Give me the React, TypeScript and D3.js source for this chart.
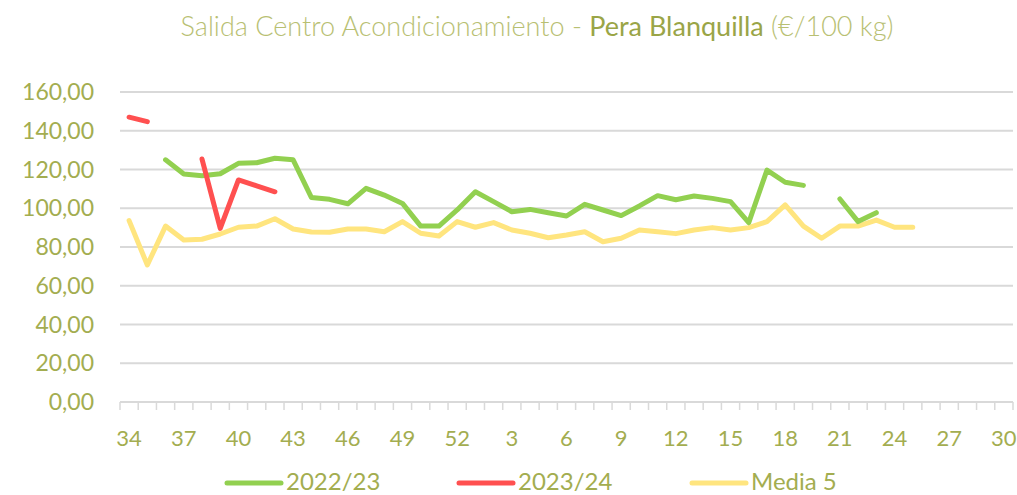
import React from "react";
import * as d3 from "d3";

const weeks: string[] = [
  ...d3.range(34, 53).map(String),
  ...d3.range(1, 31).map(String),
];

const tickLabels = ["34","37","40","43","46","49","52","3","6","9","12","15","18","21","24","27","30"];
const yTicks = [0, 20, 40, 60, 80, 100, 120, 140, 160];

type V = number | null;

// 2022/23 (weeks 34..52, 1..30)
const s2223: V[] = [
  null, null, 125, 117.7, 116.8, 117.8, 123.2, 123.5, 125.8, 125,
  105.6, 104.6, 102.3, 110.3, 106.8, 102.5, 90.8, 90.8, 99.1,
  108.5, 103.4, 98.2, 99.4, 97.7, 96, 102, 99.1, 96.2, 101.2,
  106.5, 104.4, 106.3, 105.1, 103.4, 92.6, 119.7, 113.4, 111.8, null,
  104.8, 93.1, 97.7, null, null, null, null, null, null, null,
];

const s2324: V[] = [
  147, 144.7, null, null, 125.4, 89.6, 114.6, 111.6, 108.5, null,
  null, null, null, null, null, null, null, null, null,
  null, null, null, null, null, null, null, null, null, null,
  null, null, null, null, null, null, null, null, null, null,
  null, null, null, null, null, null, null, null, null, null,
];

const media5: V[] = [
  93.6, 70.7, 90.8, 83.6, 84, 86.7, 90.2, 90.8, 94.6, 89.3,
  87.7, 87.6, 89.3, 89.3, 87.9, 93.1, 87.1, 85.7, 93.1,
  90.2, 92.6, 88.8, 87.1, 84.8, 86.2, 87.9, 82.7, 84.5, 88.8,
  87.9, 86.9, 88.8, 90, 88.8, 90, 93.1, 101.7, 90.8, 84.5,
  90.8, 90.8, 93.9, 90.2, 90.2, null, null, null, null, null,
];

const series = [
  { name: "2022/23", values: s2223, color: "#92d050" },
  { name: "2023/24", values: s2324, color: "#ff5050" },
  { name: "Media 5", values: media5, color: "#ffe57f" },
];

const labelColor = "#a3ad50";
const font = "Lato, 'Open Sans', sans-serif";

export default function App() {
  const W = 1017, H = 495;
  const x = d3.scaleBand<string>().domain(weeks).range([120, 1013]);
  const y = d3.scaleLinear().domain([0, 160]).range([402, 92]);
  const cx = (w: string) => (x(w) as number) + x.bandwidth() / 2;
  const line = d3
    .line<V>()
    .defined((d) => d !== null)
    .x((_, i) => cx(weeks[i]))
    .y((d) => y(d as number));

  const boundaries = weeks.map((w) => x(w) as number).concat([x.range()[1]]);
  const legendX = [227, 459, 692];

  return (
    <svg width={W} height={H} style={{ position: "absolute", left: 0, top: 0 }}>
      <rect width={W} height={H} fill="#ffffff" />
      <text x={537} y={36} textAnchor="middle" fontFamily={font} fontSize={27} fontWeight={300} fill="#b8c072">
        Salida Centro Acondicionamiento -{" "}
        <tspan fill="#9aa547" fontWeight={400}>Pera Blanquilla</tspan> (€/100 kg)
      </text>
      {yTicks.slice(1).map((t) => (
        <line key={t} x1={120} x2={1013} y1={y(t)} y2={y(t)} stroke="#d9d9d9" strokeWidth={2} />
      ))}
      {yTicks.map((t) => (
        <text key={t} x={94} y={y(t)} dy="0.35em" textAnchor="end" fontFamily={font} fontSize={23} fill={labelColor}>
          {d3.format(".2f")(t).replace(".", ",")}
        </text>
      ))}
      <line x1={120} x2={1013} y1={402} y2={402} stroke="#d9d9d9" strokeWidth={2} />
      {boundaries.map((b, i) => (
        <line key={i} x1={b} x2={b} y1={402} y2={410} stroke="#d9d9d9" strokeWidth={1.5} />
      ))}
      {tickLabels.map((t) => (
        <text key={t} x={cx(t)} y={446} textAnchor="middle" fontFamily={font} fontSize={22} fill={labelColor}>
          {t}
        </text>
      ))}
      {[series[2], series[0], series[1]].map((s) => (
        <path key={s.name} d={line(s.values) || ""} fill="none" stroke={s.color} strokeWidth={5} strokeLinejoin="round" strokeLinecap="round" />
      ))}
      {series.map((s, i) => (
        <g key={s.name}>
          <line x1={legendX[i]} x2={legendX[i] + 54} y1={483} y2={483} stroke={s.color} strokeWidth={5} strokeLinecap="round" />
          <text x={legendX[i] + 59} y={490} fontFamily={font} fontSize={24} fill={labelColor}>
            {s.name}
          </text>
        </g>
      ))}
    </svg>
  );
}
